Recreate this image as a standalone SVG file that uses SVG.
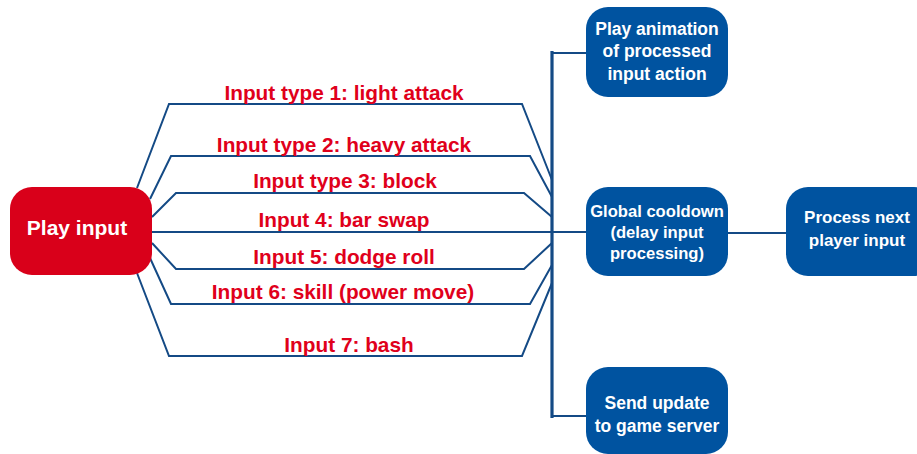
<svg xmlns="http://www.w3.org/2000/svg" width="917" height="454" viewBox="0 0 917 454">
  <style>
    .bg { fill: #ffffff; }
    .red-node { fill: #d9001a; }
    .blue-node { fill: #0053a0; }
    .node-text { font-family: "Liberation Sans", Arial, sans-serif; font-weight: bold; fill: #ffffff; text-anchor: middle; }
    .label { font-family: "Liberation Sans", Arial, sans-serif; font-weight: bold; font-size: 20.8px; fill: #e0001b; text-anchor: middle; }
    .link { fill: none; stroke: #144a85; stroke-width: 2; stroke-linejoin: miter; }
    .bus { fill: none; stroke: #144a85; stroke-width: 3.2; }
  </style>

  <rect class="bg" x="0" y="0" width="917" height="454"/>

  <!-- connectors -->
  <g id="connectors">
    <!-- input branches from Play input to the vertical bus -->
    <polyline class="link" points="137,188 169,104 522,104 552,180"/>
    <polyline class="link" points="150,199 171,156 530,156 552,197"/>
    <polyline class="link" points="152,217 176,193 524,193 552,217"/>
    <polyline class="link" points="152,232 586,232"/>
    <polyline class="link" points="152,243 176,269 524,269 552,243"/>
    <polyline class="link" points="150,258 171,304 530,304 552,265"/>
    <polyline class="link" points="137,273 169,356 522,356 552,283"/>
    <!-- vertical bus and its outlets -->
    <line class="bus" x1="552" y1="51" x2="552" y2="418"/>
    <line class="link" x1="552" y1="53" x2="586" y2="53"/>
    <line class="link" x1="552" y1="416" x2="586" y2="416"/>
    <!-- cooldown to next input -->
    <line class="link" x1="728" y1="233" x2="786" y2="233"/>
  </g>

  <!-- branch labels -->
  <g id="labels">
    <text class="label" x="344" y="100">Input type 1: light attack</text>
    <text class="label" x="344" y="152">Input type 2: heavy attack</text>
    <text class="label" x="345" y="188">Input type 3: block</text>
    <text class="label" x="344" y="227">Input 4: bar swap</text>
    <text class="label" x="344" y="264">Input 5: dodge roll</text>
    <text class="label" x="343" y="299">Input 6: skill (power move)</text>
    <text class="label" x="349" y="352">Input 7: bash</text>
  </g>

  <g id="play-input">
    <rect class="red-node" x="10" y="187" width="142" height="88" rx="22"/>
    <text class="node-text" x="77" y="235" font-size="21">Play input</text>
  </g>

  <g id="play-animation">
    <rect class="blue-node" x="586" y="7" width="142" height="90" rx="22"/>
    <text class="node-text" font-size="17.5" x="657" y="35">Play animation</text>
    <text class="node-text" font-size="17.5" x="657" y="57">of processed</text>
    <text class="node-text" font-size="17.5" x="657" y="80">input action</text>
  </g>

  <g id="global-cooldown">
    <rect class="blue-node" x="586" y="187" width="142" height="89" rx="22"/>
    <text class="node-text" font-size="16.6" x="657" y="217">Global cooldown</text>
    <text class="node-text" font-size="16.6" x="657" y="238">(delay input</text>
    <text class="node-text" font-size="16.6" x="657" y="259">processing)</text>
  </g>

  <g id="process-next">
    <rect class="blue-node" x="786" y="187" width="150" height="89" rx="22"/>
    <text class="node-text" font-size="17" x="857" y="223">Process next</text>
    <text class="node-text" font-size="17" x="857" y="246">player input</text>
  </g>

  <g id="send-update">
    <rect class="blue-node" x="586" y="367" width="142" height="87" rx="22"/>
    <text class="node-text" font-size="17.5" x="657" y="409">Send update</text>
    <text class="node-text" font-size="17.5" x="657" y="432">to game server</text>
  </g>
</svg>
